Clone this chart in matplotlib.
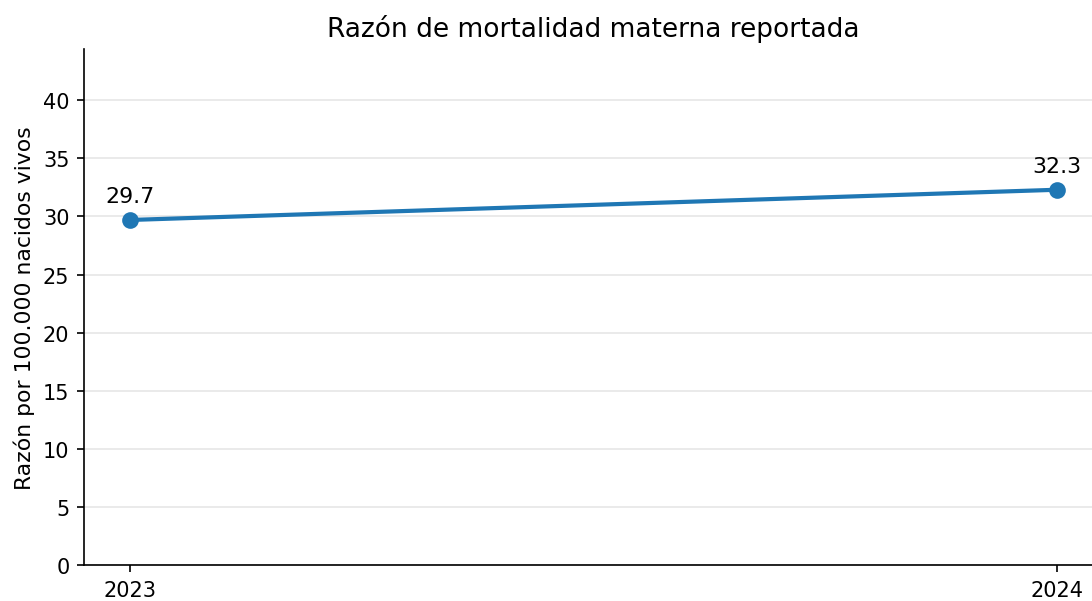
import matplotlib
matplotlib.use("Agg")
import matplotlib.pyplot as plt

years = [2023, 2024]
ratio = [29.7, 32.3]
year_labels = ["2023", "2024"]

fig = plt.figure(figsize=(7.28, 4.013), dpi=150)
ax = fig.add_axes([84 / 1092, 1 - 566 / 602, (1103 - 84) / 1092, (566 - 50) / 602])

ax.plot(years, ratio, color="#1f77b4", linewidth=2, marker="o", markersize=7)
for x, y in zip(years, ratio):
    ax.annotate(f"{y:.1f}", (x, y), xytext=(0, 6.5), textcoords="offset points",
                ha="center", va="bottom", fontsize=10.6)

ax.set_xticks(years)
ax.set_xticklabels(year_labels)
ax.set_xlim(2022.95, 2024.05)
ax.set_ylim(0, max(ratio) * 1.375)
ax.set_yticks(range(0, 45, 5))
ax.tick_params(labelsize=10)
ax.set_ylabel("Razón por 100.000 nacidos vivos", fontsize=10.5)
ax.set_title("Razón de mortalidad materna reportada", fontsize=12.7)
ax.grid(axis="y", color="#e6e6e6", linewidth=0.8)
ax.set_axisbelow(True)
ax.spines["top"].set_visible(False)
ax.spines["right"].set_visible(False)

fig.savefig("out.png", dpi=150)
